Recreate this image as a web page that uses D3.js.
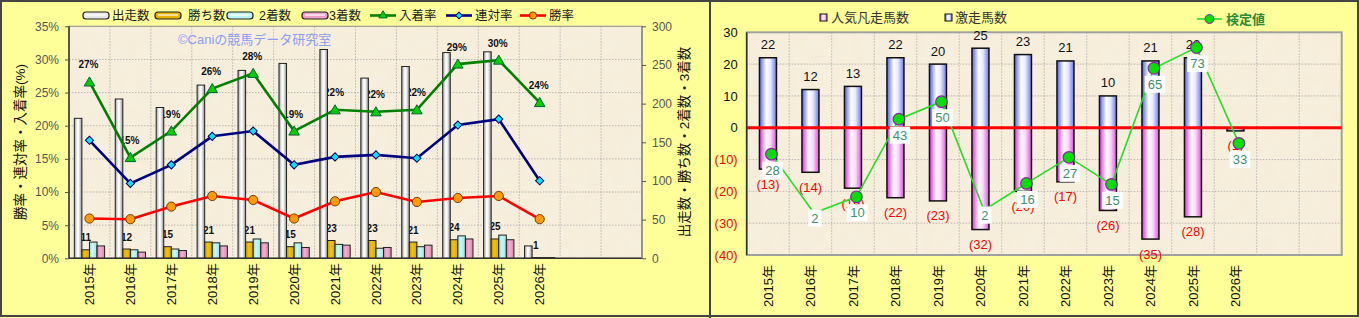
<!DOCTYPE html>
<html><head><meta charset="utf-8">
<script src="https://cdn.jsdelivr.net/npm/d3@7"></script>
<style>
body{margin:0;background:#FFFF99;}
svg{display:block;}
text{font-family:"Liberation Sans","Noto Sans CJK JP",sans-serif;}
</style></head><body>
<svg id="c" width="1359" height="318"></svg>
<script>
// ---------- DATA ----------
const years = ["2015年","2016年","2017年","2018年","2019年","2020年","2021年","2022年","2023年","2024年","2025年","2026年"];
const slotCount = 14;
// left chart (counts, right axis)
const starts  = [181,206,195,224,243,252,270,233,248,266,267,16];
const wins    = [11,12,15,21,21,15,23,23,21,24,25,1];
const seconds = [21,11,12,20,25,20,18,13,15,29,30,1];
const thirds  = [16,8,10,16,20,14,17,14,17,25,24,1];
// left chart (rates %, left axis)
const showRate  = [26.6,15.2,19.2,25.6,27.9,19.2,22.4,22.1,22.4,29.3,29.9,23.5]; // 入着率
const placeRate = [17.8,11.3,14.1,18.4,19.2,14.1,15.3,15.6,15.1,20.1,21.0,11.7]; // 連対率
const winRate   = [6.0,5.9,7.8,9.4,8.8,6.0,8.6,10.0,8.5,9.1,9.4,5.9];            // 勝率
const pctTicks = [0,5,10,15,20,25,30,35];
const cntTicks = [0,50,100,150,200,250,300];
// right chart
const popularFail = [-13,-14,-19,-22,-23,-32,-20,-17,-26,-35,-28,-1]; // 人気凡走馬数
const hitCount    = [22,12,13,22,20,25,23,21,10,21,22,0];             // 激走馬数
const testValue   = [-8.3,-26.8,-21.7,2.7,8.2,-25.9,-17.5,-9.3,-17.8,18.7,25.2,-4.9]; // 検定値 (plotted)
const testLabels  = [28,2,10,43,50,2,16,27,15,65,73,33];
const markerShown = [true,false,true,true,true,false,true,true,true,true,true,true];
const rTicks = [-40,-30,-20,-10,0,10,20,30];

// ---------- SETUP ----------
const svg = d3.select("#c");
const defs = svg.append("defs");
svg.append("rect").attr("width",1359).attr("height",318).attr("fill","#FFFF99");

// paper texture
const f = defs.append("filter").attr("id","paper").attr("x",0).attr("y",0).attr("width","100%").attr("height","100%");
f.append("feTurbulence").attr("type","fractalNoise").attr("baseFrequency","0.08").attr("numOctaves",3).attr("seed",4);
f.append("feColorMatrix").attr("type","matrix")
 .attr("values","0 0 0 0 0.80  0 0 0 0 0.66  0 0 0 0 0.45  0.5 0 0 0 -0.2");

function hGrad(id, stops){
  const g = defs.append("linearGradient").attr("id",id).attr("x1","0%").attr("x2","100%").attr("y1","0%").attr("y2","0%");
  stops.forEach(s=>g.append("stop").attr("offset",s[0]).attr("stop-color",s[1]));
}
hGrad("gWhite",[["0%","#9a9a9a"],["40%","#ffffff"],["60%","#f4f4f4"],["100%","#8c8c8c"]]);
hGrad("gGold",[["0%","#c99700"],["40%","#f5c400"],["100%","#d9a800"]]);
hGrad("gCyan",[["0%","#8fdede"],["40%","#c8fafa"],["100%","#9ae4e4"]]);
hGrad("gPinkL",[["0%","#d9789f"],["40%","#f7b0d0"],["100%","#e088b0"]]);
hGrad("gBlue",[["0%","#5060e8"],["40%","#ffffff"],["65%","#e6e8ff"],["100%","#6a78ee"]]);
hGrad("gMag",[["0%","#d830d8"],["42%","#ffffff"],["65%","#fbd8fb"],["100%","#e050e0"]]);

function plotBg(x0,y0,x1,y1){
  svg.append("rect").attr("x",x0).attr("y",y0).attr("width",x1-x0).attr("height",y1-y0).attr("fill","#F7EFDD");
  svg.append("rect").attr("x",x0).attr("y",y0).attr("width",x1-x0).attr("height",y1-y0).attr("filter","url(#paper)").attr("opacity",0.5);
}

// ---------- LEFT CHART ----------
const L = {x0:69, x1:642, y0:26.3, y1:258.3};
const xL = d3.scaleBand().domain(d3.range(slotCount)).range([L.x0,L.x1]);
const yPct = d3.scaleLinear().domain([0,35]).range([L.y1,L.y0]);
const yCnt = d3.scaleLinear().domain([0,300]).range([L.y1,L.y0]);
const bwL = xL.bandwidth();
const inner = d3.scaleBand().domain([0,1,2,3]).range([bwL*0.13,bwL*0.87]);
const cxL = i => xL(i)+bwL/2;

plotBg(L.x0,L.y0,L.x1,L.y1);
const gl = svg.append("g");
pctTicks.slice(1,-1).forEach(t=>gl.append("line").attr("x1",L.x0).attr("x2",L.x1).attr("y1",yPct(t)).attr("y2",yPct(t))
  .attr("stroke","#a8a8a8").attr("stroke-dasharray","1.5,1.5").attr("stroke-width",0.8));
d3.range(1,slotCount).forEach(i=>gl.append("line").attr("x1",xL(i)).attr("x2",xL(i)).attr("y1",L.y0).attr("y2",L.y1)
  .attr("stroke","#a8a8a8").attr("stroke-dasharray","1.5,1.5").attr("stroke-width",0.8));
svg.append("rect").attr("x",L.x0).attr("y",L.y0).attr("width",L.x1-L.x0).attr("height",L.y1-L.y0)
  .attr("fill","none").attr("stroke","#9a9a9a").attr("stroke-width",1.2);

// watermark
svg.append("text").attr("x",178).attr("y",44).attr("font-size",13).attr("fill","#8c9cf0").text("©Caniの競馬データ研究室");

// labels (drawn beneath bars, as in the source)
svg.append("g").selectAll("text").data(showRate).join("text")
  .attr("x",(d,i)=>cxL(i)-1).attr("y",d=>yPct(d)-13.5).attr("text-anchor","middle")
  .attr("font-size",10).attr("font-weight","bold").attr("fill","#111")
  .text(d=>d3.format(".0f")(d)+"%");
svg.append("g").selectAll("text").data(wins).join("text")
  .attr("x",(d,i)=>xL(i)+inner(1)+inner.bandwidth()/2).attr("y",d=>yCnt(d)-8.5).attr("text-anchor","middle")
  .attr("font-size",10).attr("font-weight","bold").attr("fill","#111")
  .text(d=>d);

// bars
const barSeries = [starts,wins,seconds,thirds];
const barFills = ["url(#gWhite)","url(#gGold)","url(#gCyan)","url(#gPinkL)"];
barSeries.forEach((ser,k)=>{
  svg.append("g").selectAll("rect").data(ser).join("rect")
    .attr("x",(d,i)=>xL(i)+inner(k)).attr("width",inner.bandwidth())
    .attr("y",d=>yCnt(d)).attr("height",d=>yCnt(0)-yCnt(d))
    .attr("fill",barFills[k]).attr("stroke","#222").attr("stroke-width",1);
});

// lines
const lineGen = d3.line().x((d,i)=>cxL(i)).y(d=>yPct(d));
const lineCfg = [
  {data:showRate,color:"#008000"},
  {data:placeRate,color:"#000080"},
  {data:winRate,color:"#ff0000"}
];
lineCfg.forEach(c=>svg.append("path").attr("d",lineGen(c.data)).attr("fill","none").attr("stroke",c.color).attr("stroke-width",2.6));
svg.append("g").selectAll("path").data(showRate).join("path")
  .attr("d",d3.symbol(d3.symbolTriangle,48)()).attr("transform",(d,i)=>`translate(${cxL(i)},${yPct(d)+1})`)
  .attr("fill","#00d000").attr("stroke","#063").attr("stroke-width",1);
svg.append("g").selectAll("rect").data(placeRate).join("rect")
  .attr("x",-2.9).attr("y",-2.9).attr("width",5.8).attr("height",5.8)
  .attr("transform",(d,i)=>`translate(${cxL(i)},${yPct(d)}) rotate(45)`)
  .attr("fill","#00e5ff").attr("stroke","#005").attr("stroke-width",1);
svg.append("g").selectAll("circle").data(winRate).join("circle")
  .attr("cx",(d,i)=>cxL(i)).attr("cy",d=>yPct(d)).attr("r",4.6)
  .attr("fill","#ff9a00").attr("stroke","#7a3a00").attr("stroke-width",1);

// axes lines
svg.append("line").attr("x1",L.x0).attr("x2",L.x0).attr("y1",L.y0).attr("y2",L.y1).attr("stroke","#333").attr("stroke-width",1.5);
svg.append("line").attr("x1",L.x0).attr("x2",L.x1).attr("y1",L.y1).attr("y2",L.y1).attr("stroke","#333").attr("stroke-width",1.5);
svg.append("line").attr("x1",L.x1).attr("x2",L.x1).attr("y1",L.y0).attr("y2",L.y1).attr("stroke","#888").attr("stroke-width",1.5);

const axL = svg.append("g").attr("transform",`translate(${L.x0},0)`)
  .call(d3.axisLeft(yPct).tickValues(pctTicks).tickFormat(d=>d+"%").tickSize(4).tickPadding(6));
axL.select(".domain").remove();
axL.selectAll("text").attr("font-size",12).attr("fill","#555").attr("font-family","Liberation Sans, sans-serif");
axL.selectAll("line").attr("stroke","#555");
const axR = svg.append("g").attr("transform",`translate(${L.x1},0)`)
  .call(d3.axisRight(yCnt).tickValues(cntTicks).tickSize(4).tickPadding(6));
axR.select(".domain").remove();
axR.selectAll("text").attr("font-size",12).attr("fill","#555").attr("font-family","Liberation Sans, sans-serif");
axR.selectAll("line").attr("stroke","#555");

const axXL = svg.append("g").attr("transform",`translate(0,${L.y1})`)
  .call(d3.axisBottom(xL).tickSize(0).tickFormat(i=>years[i]||""));
axXL.select(".domain").remove();
axXL.selectAll("text").attr("transform","rotate(-90)").attr("x",-5).attr("y",0).attr("dy","0.35em")
  .attr("text-anchor","end").attr("font-size",13).attr("fill","#111");

// axis titles
svg.append("text").attr("transform","translate(25,142) rotate(-90)").attr("text-anchor","middle")
  .attr("font-size",13.5).attr("fill","#111").text("勝率・連対率・入着率(%)");
svg.append("text").attr("transform","translate(689,142) rotate(-90)").attr("text-anchor","middle")
  .attr("font-size",13.5).attr("fill","#111").text("出走数・勝ち数・2着数・3着数");

// left legend
const legL = svg.append("g");
const legBars = [
  {x:83,fill:"#e8e8e8",tx:112,t:"出走数"},
  {x:155,fill:"#e8b200",tx:188,t:"勝ち数"},
  {x:227,fill:"#b8f4f4",tx:259,t:"2着数"},
  {x:302,fill:"#f0a0c8",tx:329,t:"3着数"}];
legBars.forEach(b=>{
  legL.append("rect").attr("x",b.x).attr("y",12).attr("width",26).attr("height",7).attr("rx",3)
    .attr("fill",b.fill).attr("stroke","#222").attr("stroke-width",1.2);
  legL.append("rect").attr("x",b.x+3).attr("y",14).attr("width",20).attr("height",2).attr("fill","#fff").attr("opacity",0.6);
  legL.append("text").attr("x",b.tx).attr("y",20).attr("font-size",12.5).attr("fill","#222").text(b.t);
});
const legLines = [
  {x:370,c:"#008000",tx:399,t:"入着率",m:"tri"},
  {x:446,c:"#000080",tx:475,t:"連対率",m:"dia"},
  {x:520,c:"#ff0000",tx:549,t:"勝率",m:"cir"}];
legLines.forEach(l=>{
  legL.append("line").attr("x1",l.x).attr("x2",l.x+26).attr("y1",15.5).attr("y2",15.5).attr("stroke",l.c).attr("stroke-width",2.6);
  const mx=l.x+13, my=15.5;
  if(l.m==="tri") legL.append("path").attr("d",d3.symbol(d3.symbolTriangle,30)()).attr("transform",`translate(${mx},${my})`).attr("fill","#00d000").attr("stroke","#063");
  if(l.m==="dia") legL.append("rect").attr("x",-2.4).attr("y",-2.4).attr("width",4.8).attr("height",4.8).attr("transform",`translate(${mx},${my}) rotate(45)`).attr("fill","#00e5ff").attr("stroke","#005");
  if(l.m==="cir") legL.append("circle").attr("cx",mx).attr("cy",my).attr("r",3.6).attr("fill","#ff9a00").attr("stroke","#7a3a00");
  legL.append("text").attr("x",l.tx).attr("y",20).attr("font-size",12.5).attr("fill","#222").text(l.t);
});

// ---------- RIGHT CHART ----------
const R = {x0:746.7, x1:1341.7, y0:32.3, y1:255};
const xR = d3.scaleBand().domain(d3.range(slotCount)).range([R.x0,R.x1]);
const yR = d3.scaleLinear().domain([-40,30]).range([R.y1,R.y0]);
const bwR = xR.bandwidth();
const barW = bwR*0.4;
const cxR = i => xR(i)+bwR/2;
const lineShift = 3.5;

plotBg(R.x0,R.y0,R.x1,R.y1);
const gr = svg.append("g");
rTicks.slice(1,-1).forEach(t=>gr.append("line").attr("x1",R.x0).attr("x2",R.x1).attr("y1",yR(t)).attr("y2",yR(t))
  .attr("stroke","#a8a8a8").attr("stroke-dasharray","1.5,1.5").attr("stroke-width",0.8));
d3.range(1,slotCount).forEach(i=>gr.append("line").attr("x1",xR(i)).attr("x2",xR(i)).attr("y1",R.y0).attr("y2",R.y1)
  .attr("stroke","#a8a8a8").attr("stroke-dasharray","1.5,1.5").attr("stroke-width",0.8));

svg.append("g").selectAll("rect").data(popularFail).join("rect")
  .attr("x",(d,i)=>cxR(i)-barW/2).attr("width",barW)
  .attr("y",yR(0)).attr("height",d=>yR(d)-yR(0))
  .attr("fill","url(#gMag)").attr("stroke","#111").attr("stroke-width",1.5);
svg.append("g").selectAll("rect").data(hitCount).join("rect")
  .attr("x",(d,i)=>cxR(i)-barW/2).attr("width",barW)
  .attr("y",d=>yR(d)).attr("height",d=>yR(0)-yR(d))
  .attr("fill","url(#gBlue)").attr("stroke","#111").attr("stroke-width",d=>d>0?1.5:0);

svg.append("rect").attr("x",R.x0).attr("y",R.y0).attr("width",R.x1-R.x0).attr("height",R.y1-R.y0)
  .attr("fill","none").attr("stroke","#a0a0a0").attr("stroke-width",2);
svg.append("line").attr("x1",R.x0).attr("x2",R.x1).attr("y1",yR(0)).attr("y2",yR(0)).attr("stroke","#ff0000").attr("stroke-width",3);
svg.append("line").attr("x1",R.x0).attr("x2",R.x0).attr("y1",R.y0).attr("y2",R.y1).attr("stroke","#333").attr("stroke-width",1.5);

// bar labels
svg.append("g").selectAll("text").data(hitCount).join("text")
  .attr("x",(d,i)=>cxR(i)).attr("y",d=>yR(d)-8.5).attr("text-anchor","middle")
  .attr("font-size",13).attr("fill","#111").text(d=>d>0?d:"");
svg.append("g").selectAll("text").data(popularFail).join("text")
  .attr("x",(d,i)=>cxR(i)).attr("y",d=>yR(d)+19.5).attr("text-anchor","middle")
  .attr("font-size",13).attr("fill","#ff0000").text(d=>`(${-d})`);

// test value line
const lineR = d3.line().x((d,i)=>cxR(i)+lineShift).y(d=>yR(d));
svg.append("path").attr("d",lineR(testValue)).attr("fill","none").attr("stroke","#22e022").attr("stroke-width",1.6);
svg.append("g").selectAll("circle").data(testValue).join("circle")
  .attr("cx",(d,i)=>cxR(i)+lineShift).attr("cy",d=>yR(d)).attr("r",(d,i)=>markerShown[i]?5.8:0)
  .attr("fill","#00e000").attr("stroke","#8a2a9a").attr("stroke-width",1.2);
const lblG = svg.append("g");
testValue.forEach((d,i)=>{
  const cy = yR(d) + (markerShown[i]?16:5);
  const g = lblG.append("g").attr("transform",`translate(${cxR(i)+lineShift+1},${cy})`);
  const t = g.append("text").attr("text-anchor","middle").attr("dy","0.36em").attr("font-size",13)
    .attr("fill","#3a9070").text(testLabels[i]);
  const bb = t.node().getBBox();
  g.insert("rect","text").attr("x",bb.x-3).attr("y",-8.5).attr("width",bb.width+6).attr("height",17).attr("fill","#fff");
});

// axes
const axR2 = svg.append("g").attr("transform",`translate(${R.x0},0)`)
  .call(d3.axisLeft(yR).tickValues(rTicks).tickSize(0).tickPadding(9).tickFormat(d=>d<0?`(${-d})`:d));
axR2.select(".domain").remove();
axR2.selectAll("text").attr("font-size",13).attr("font-family","Liberation Sans, sans-serif").attr("fill",d=>d<0?"#ff0000":"#111");
const axXR = svg.append("g").attr("transform",`translate(0,${R.y1})`)
  .call(d3.axisBottom(xR).tickSize(0).tickFormat(i=>years[i]||""));
axXR.select(".domain").remove();
axXR.selectAll("text").attr("transform","rotate(-90)").attr("x",-10).attr("y",0).attr("dy","0.35em")
  .attr("text-anchor","end").attr("font-size",13).attr("fill","#111");

// right legend
const legR = svg.append("g");
legR.append("rect").attr("x",820).attr("y",14).attr("width",7).attr("height",7).attr("fill","url(#gMag)").attr("stroke","#111");
legR.append("text").attr("x",831).attr("y",22).attr("font-size",13).attr("fill","#333").text("人気凡走馬数");
legR.append("rect").attr("x",945).attr("y",14).attr("width",7).attr("height",7).attr("fill","url(#gBlue)").attr("stroke","#111");
legR.append("text").attr("x",955).attr("y",22).attr("font-size",13).attr("fill","#333").text("激走馬数");
legR.append("line").attr("x1",1197).attr("x2",1222).attr("y1",19).attr("y2",19).attr("stroke","#22e022").attr("stroke-width",1.6);
legR.append("circle").attr("cx",1209.5).attr("cy",19).attr("r",4.5).attr("fill","#00e000").attr("stroke","#8a2a9a");
legR.append("text").attr("x",1226).attr("y",24).attr("font-size",13).attr("font-weight","bold").attr("fill","#2a8a3a").text("検定値");

// panel frames
svg.append("rect").attr("x",1).attr("y",1).attr("width",1357).attr("height",315).attr("fill","none").attr("stroke","#444").attr("stroke-width",2);
svg.append("line").attr("x1",710).attr("x2",710).attr("y1",0).attr("y2",318).attr("stroke","#444").attr("stroke-width",2);
</script></body></html>
